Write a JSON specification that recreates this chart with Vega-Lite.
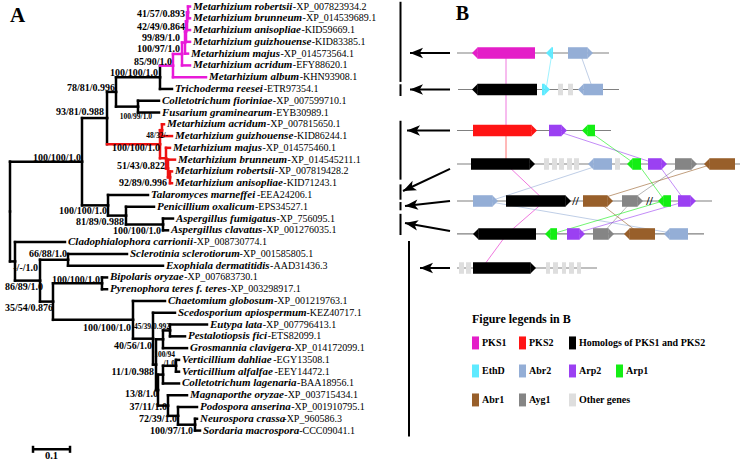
{
"$schema": "https://vega.github.io/schema/vega-lite/v6.json",
"padding": 0, "spacing": 0, "bounds": "flush", "background": "white",
"config": {"view": {"stroke": null}, "text": {"font": "Liberation Serif"}},
"resolve": {"scale": {"x": "independent", "y": "independent", "color": "independent", "shape": "independent"}},
"datasets": {
"tree": [
{"id":"t0","parent":"M5","depth":0.4865,"y":0,"grp":"PKS1","sp":"Metarhizium robertsii","acc":"XP_007823934.2"},
{"id":"t1","parent":"M5","depth":0.4865,"y":1,"grp":"PKS1","sp":"Metarhizium brunneum","acc":"XP_014539689.1"},
{"id":"t2","parent":"M4","depth":0.4865,"y":2,"grp":"PKS1","sp":"Metarhizium anisopliae","acc":"KID59669.1"},
{"id":"t3","parent":"M3","depth":0.4865,"y":3,"grp":"PKS1","sp":"Metarhizium guizhouense","acc":"KID83385.1"},
{"id":"t4","parent":"M2","depth":0.4811,"y":4,"grp":"PKS1","sp":"Metarhizium majus","acc":"XP_014573564.1"},
{"id":"t5","parent":"M1","depth":0.4865,"y":5,"grp":"PKS1","sp":"Metarhizium acridum","acc":"EFY88620.1"},
{"id":"t6","parent":"M0","depth":0.5297,"y":6,"grp":"PKS1","sp":"Metarhizium album","acc":"KHN93908.1"},
{"id":"t7","parent":"Y","depth":0.4378,"y":7,"grp":"other","sp":"Trichoderma reesei","acc":"ETR97354.1"},
{"id":"t8","parent":"Z","depth":0.4027,"y":8,"grp":"other","sp":"Colletotrichum fioriniae","acc":"XP_007599710.1"},
{"id":"t9","parent":"Z","depth":0.4027,"y":9,"grp":"other","sp":"Fusarium graminearum","acc":"EYB30989.1"},
{"id":"t10","parent":"Ra","depth":0.4162,"y":10,"grp":"PKS2","sp":"Metarhizium acridum","acc":"XP_007815650.1"},
{"id":"t11","parent":"Ra","depth":0.4378,"y":11,"grp":"PKS2","sp":"Metarhizium guizhouense","acc":"KID86244.1"},
{"id":"t12","parent":"R2","depth":0.4324,"y":12,"grp":"PKS2","sp":"Metarhizium majus","acc":"XP_014575460.1"},
{"id":"t13","parent":"R3","depth":0.4459,"y":13,"grp":"PKS2","sp":"Metarhizium brunneum","acc":"XP_014545211.1"},
{"id":"t14","parent":"R4","depth":0.4378,"y":14,"grp":"PKS2","sp":"Metarhizium robertsii","acc":"XP_007819428.2"},
{"id":"t15","parent":"R4","depth":0.4378,"y":15,"grp":"PKS2","sp":"Metarhizium anisopliae","acc":"KID71243.1"},
{"id":"t16","parent":"W","depth":0.3730,"y":16,"grp":"other","sp":"Talaromyces marneffei","acc":"EEA24206.1"},
{"id":"t17","parent":"W2","depth":0.3892,"y":17,"grp":"other","sp":"Penicillium oxalicum","acc":"EPS34527.1"},
{"id":"t18","parent":"W3","depth":0.4405,"y":18,"grp":"other","sp":"Aspergillus fumigatus","acc":"XP_756095.1"},
{"id":"t19","parent":"W3","depth":0.4270,"y":19,"grp":"other","sp":"Aspergillus clavatus","acc":"XP_001276035.1"},
{"id":"t20","parent":"B","depth":0.1486,"y":20,"grp":"other","sp":"Cladophialophora carrionii","acc":"XP_008730774.1"},
{"id":"t21","parent":"D","depth":0.3162,"y":21,"grp":"other","sp":"Sclerotinia sclerotiorum","acc":"XP_001585805.1"},
{"id":"t22","parent":"D","depth":0.4135,"y":22,"grp":"other","sp":"Exophiala dermatitidis","acc":"AAD31436.3"},
{"id":"t23","parent":"F","depth":0.2622,"y":23,"grp":"other","sp":"Bipolaris oryzae","acc":"XP_007683730.1"},
{"id":"t24","parent":"F","depth":0.2622,"y":24,"grp":"other","sp":"Pyrenophora teres f. teres","acc":"XP_003298917.1"},
{"id":"t25","parent":"G","depth":0.4189,"y":25,"grp":"other","sp":"Chaetomium globosum","acc":"XP_001219763.1"},
{"id":"t26","parent":"H","depth":0.4459,"y":26,"grp":"other","sp":"Scedosporium apiospermum","acc":"KEZ40717.1"},
{"id":"t27","parent":"J","depth":0.5324,"y":27,"grp":"other","sp":"Eutypa lata","acc":"XP_007796413.1"},
{"id":"t28","parent":"J","depth":0.4730,"y":28,"grp":"other","sp":"Pestalotiopsis fici","acc":"ETS82099.1"},
{"id":"t29","parent":"K","depth":0.4784,"y":29,"grp":"other","sp":"Grosmannia clavigera","acc":"XP_014172099.1"},
{"id":"t30","parent":"Vn","depth":0.4568,"y":30,"grp":"other","sp":"Verticillium dahliae","acc":"EGY13508.1"},
{"id":"t31","parent":"Vn","depth":0.4568,"y":31,"grp":"other","sp":"Verticillium alfalfae","acc":"EEY14472.1"},
{"id":"t32","parent":"L","depth":0.4568,"y":32,"grp":"other","sp":"Colletotrichum lagenaria","acc":"BAA18956.1"},
{"id":"t33","parent":"R","depth":0.4784,"y":33,"grp":"other","sp":"Magnaporthe oryzae","acc":"XP_003715434.1"},
{"id":"t34","parent":"S","depth":0.5054,"y":34,"grp":"other","sp":"Podospora anserina","acc":"XP_001910795.1"},
{"id":"t35","parent":"T","depth":0.5054,"y":35,"grp":"other","sp":"Neurospora crassa","acc":"XP_960586.3"},
{"id":"t36","parent":"T","depth":0.5135,"y":36,"grp":"other","sp":"Sordaria macrospora","acc":"CCC09041.1"},
{"id":"M5","parent":"M4","depth":0.4811,"y":0.5,"grp":"PKS1"},
{"id":"M4","parent":"M3","depth":0.4784,"y":1.25,"grp":"PKS1"},
{"id":"M3","parent":"M2","depth":0.4757,"y":2.13,"grp":"PKS1"},
{"id":"M2","parent":"M1","depth":0.4730,"y":3.06,"grp":"PKS1"},
{"id":"M1","parent":"M0","depth":0.4649,"y":4.03,"grp":"PKS1"},
{"id":"M0","parent":"Y","depth":0.4405,"y":5.02,"grp":"PKS1"},
{"id":"Y","parent":"X","depth":0.4054,"y":6.01,"grp":"other"},
{"id":"Z","parent":"X","depth":0.3459,"y":8.5,"grp":"other"},
{"id":"X","parent":"V","depth":0.2865,"y":7.25,"grp":"other"},
{"id":"Ra","parent":"R0","depth":0.4108,"y":10.5,"grp":"PKS2"},
{"id":"R4","parent":"R3","depth":0.4324,"y":14.5,"grp":"PKS2"},
{"id":"R3","parent":"R2","depth":0.4270,"y":13.75,"grp":"PKS2"},
{"id":"R2","parent":"R0","depth":0.4216,"y":12.88,"grp":"PKS2"},
{"id":"R0","parent":"V","depth":0.4054,"y":11.69,"grp":"PKS2"},
{"id":"V","parent":"U","depth":0.2622,"y":9.47,"grp":"other"},
{"id":"W3","parent":"W2","depth":0.4135,"y":18.5,"grp":"other"},
{"id":"W2","parent":"W","depth":0.3135,"y":17.75,"grp":"other"},
{"id":"W","parent":"U","depth":0.2649,"y":16.88,"grp":"other"},
{"id":"U","parent":"A","depth":0.1946,"y":13.17,"grp":"other"},
{"id":"D","parent":"C","depth":0.1568,"y":21.5,"grp":"other"},
{"id":"F","parent":"E","depth":0.2486,"y":23.5,"grp":"other"},
{"id":"T","parent":"S","depth":0.5,"y":35.5,"grp":"other"},
{"id":"S","parent":"R","depth":0.4541,"y":34.75,"grp":"other"},
{"id":"R","parent":"Q","depth":0.4270,"y":33.88,"grp":"other"},
{"id":"Vn","parent":"L","depth":0.4486,"y":30.5,"grp":"other"},
{"id":"L","parent":"Q","depth":0.4135,"y":31.25,"grp":"other"},
{"id":"Q","parent":"P","depth":0.4,"y":32.56,"grp":"other"},
{"id":"J","parent":"K","depth":0.4324,"y":27.5,"grp":"other"},
{"id":"K","parent":"P","depth":0.4135,"y":28.25,"grp":"other"},
{"id":"P","parent":"H","depth":0.3946,"y":30.4,"grp":"other"},
{"id":"H","parent":"G","depth":0.3865,"y":28.2,"grp":"other"},
{"id":"G","parent":"E","depth":0.3324,"y":26.6,"grp":"other"},
{"id":"E","parent":"C","depth":0.1162,"y":25.05,"grp":"other"},
{"id":"C","parent":"B","depth":0.0811,"y":23.27,"grp":"other"},
{"id":"B","parent":"A","depth":0.0135,"y":21.64,"grp":"other"},
{"id":"A","depth":0,"y":17.4,"grp":"other"}
],
"support": [
{"t":"41/57/0.893","x":0.4730,"y":0.637},
{"t":"42/49/0.864","x":0.4730,"y":1.740},
{"t":"99/89/1.0","x":0.4595,"y":2.674},
{"t":"100/97/1.0","x":0.4595,"y":3.608},
{"t":"85/90/1.0","x":0.4378,"y":4.711},
{"t":"100/100/1.0","x":0.4,"y":5.645},
{"t":"78/81/0.996","x":0.2838,"y":6.918},
{"t":"93/81/0.988","x":0.2541,"y":8.956},
{"t":"100/100/1.0","x":0.4054,"y":12.012},
{"t":"100/100/1.0","x":0.1919,"y":12.861},
{"t":"51/43/0.822","x":0.4189,"y":13.540},
{"t":"92/89/0.996","x":0.4243,"y":14.983},
{"t":"100/100/1.0","x":0.2622,"y":17.360},
{"t":"81/89/0.988","x":0.3081,"y":18.294},
{"t":"100/100/1.0","x":0.4081,"y":19.058},
{"t":"-/-/1.0","x":0.0757,"y":22.199},
{"t":"66/88/1.0","x":0.1541,"y":21.010},
{"t":"86/89/1.0","x":0.0892,"y":23.812},
{"t":"100/100/1.0","x":0.2432,"y":23.218},
{"t":"35/54/0.876","x":0.1162,"y":25.594},
{"t":"100/100/1.0","x":0.3270,"y":27.292},
{"t":"40/56/1.0","x":0.3838,"y":28.820},
{"t":"11/1/0.988","x":0.3892,"y":31.027},
{"t":"13/8/1.0","x":0.4,"y":32.895},
{"t":"37/11/1.0","x":0.4243,"y":33.999},
{"t":"72/39/1.0","x":0.4514,"y":35.017},
{"t":"100/97/1.0","x":0.4946,"y":36.036}
],
"supportSmall": [
{"t":"100/99/1.0","x":0.3838,"y":9.380},
{"t":"48/32/-","x":0.4270,"y":10.993},
{"t":"45/39/0.992","x":0.4324,"y":27.207},
{"t":"100/94","x":0.4459,"y":29.584},
{"t":"/1.0","x":0.4459,"y":30.348}
],
"scalebar": [{"from":0.0622,"to":0.1622,"y":37.59,"label":"0.1"}],
"panelA": [{"label":"A","x":0.0203,"y":0.806}],
"clusters": [
{"row":1,"y":3.947,"from":0,"to":15.2},
{"row":2,"y":7.046,"from":0.1,"to":16.2},
{"row":3,"y":10.526,"from":0,"to":15.4},
{"row":4,"y":13.37,"from":0,"to":28.3},
{"row":5,"y":16.51,"from":0,"to":25.5},
{"row":6,"y":19.31,"from":0,"to":24.7},
{"row":7,"y":22.2,"from":0,"to":14.0}
],
"genes": [
{"row":1,"start":1.5,"end":7.8,"strand":"-","type":"PKS1"},
{"row":1,"start":8.9,"end":9.6,"strand":"-","type":"EthD"},
{"row":1,"start":11.1,"end":13.6,"strand":"+","type":"Abr2"},
{"row":2,"start":1.5,"end":8.0,"strand":"-","type":"Homolog"},
{"row":2,"start":8.5,"end":9.3,"strand":"+","type":"EthD"},
{"row":2,"start":10.1,"end":10.6,"strand":"o","type":"Other"},
{"row":2,"start":11.1,"end":11.6,"strand":"o","type":"Other"},
{"row":2,"start":12.1,"end":14.6,"strand":"-","type":"Abr2"},
{"row":3,"start":1.6,"end":8.0,"strand":"+","type":"PKS2"},
{"row":3,"start":9.2,"end":11.0,"strand":"+","type":"Arp2"},
{"row":3,"start":12.5,"end":13.8,"strand":"-","type":"Arp1"},
{"row":4,"start":1.4,"end":7.8,"strand":"+","type":"Homolog"},
{"row":4,"start":8.7,"end":9.2,"strand":"o","type":"Other"},
{"row":4,"start":9.5,"end":10.0,"strand":"o","type":"Other"},
{"row":4,"start":10.2,"end":10.7,"strand":"o","type":"Other"},
{"row":4,"start":11.0,"end":11.5,"strand":"o","type":"Other"},
{"row":4,"start":11.7,"end":12.2,"strand":"o","type":"Other"},
{"row":4,"start":13.1,"end":15.5,"strand":"-","type":"Abr2"},
{"row":4,"start":15.8,"end":16.3,"strand":"o","type":"Other"},
{"row":4,"start":17.0,"end":18.4,"strand":"-","type":"Arp1"},
{"row":4,"start":19.1,"end":21.0,"strand":"+","type":"Arp2"},
{"row":4,"start":21.8,"end":24.0,"strand":"+","type":"Ayg1"},
{"row":4,"start":24.7,"end":27.8,"strand":"-","type":"Abr1"},
{"row":5,"start":1.6,"end":4.1,"strand":"+","type":"Abr2"},
{"row":5,"start":4.9,"end":11.4,"strand":"+","type":"Homolog"},
{"row":5,"start":12.6,"end":15.6,"strand":"+","type":"Abr1"},
{"row":5,"start":16.5,"end":18.6,"strand":"+","type":"Ayg1"},
{"row":5,"start":20.1,"end":21.4,"strand":"-","type":"Arp1"},
{"row":5,"start":22.1,"end":23.9,"strand":"+","type":"Arp2"},
{"row":6,"start":1.6,"end":7.9,"strand":"-","type":"Homolog"},
{"row":6,"start":8.8,"end":10.0,"strand":"-","type":"Arp1"},
{"row":6,"start":11.0,"end":12.8,"strand":"+","type":"Arp2"},
{"row":6,"start":13.6,"end":15.7,"strand":"+","type":"Ayg1"},
{"row":6,"start":16.7,"end":19.8,"strand":"-","type":"Abr1"},
{"row":6,"start":20.7,"end":23.1,"strand":"-","type":"Abr2"},
{"row":7,"start":0.2,"end":0.7,"strand":"o","type":"Other"},
{"row":7,"start":0.9,"end":1.4,"strand":"o","type":"Other"},
{"row":7,"start":1.6,"end":7.9,"strand":"+","type":"Homolog"},
{"row":7,"start":8.9,"end":9.3,"strand":"o","type":"Other"},
{"row":7,"start":9.6,"end":10.1,"strand":"o","type":"Other"},
{"row":7,"start":10.5,"end":10.9,"strand":"o","type":"Other"},
{"row":7,"start":11.2,"end":11.7,"strand":"o","type":"Other"},
{"row":7,"start":12.0,"end":12.4,"strand":"o","type":"Other"}
],
"links": [
{"type":"PKS1","r1":1,"x1":4.9,"r2":3,"x2":4.9},
{"type":"EthD","r1":1,"x1":9.5,"r2":2,"x2":8.9},
{"type":"Abr2","r1":1,"x1":12.3,"r2":2,"x2":13.6},
{"type":"PKS2","r1":3,"x1":4.9,"r2":4,"x2":4.9},
{"type":"Arp2","r1":3,"x1":9.8,"r2":4,"x2":20.0},
{"type":"Arp1","r1":3,"x1":13.1,"r2":4,"x2":17.8},
{"type":"PKS1","r1":4,"x1":4.9,"r2":5,"x2":8.8},
{"type":"Abr2","r1":4,"x1":14.6,"r2":5,"x2":3.3},
{"type":"Ayg1","r1":4,"x1":22.6,"r2":5,"x2":17.3},
{"type":"Abr1","r1":4,"x1":25.6,"r2":5,"x2":13.6},
{"type":"Arp1","r1":4,"x1":18.1,"r2":5,"x2":20.8},
{"type":"Arp2","r1":4,"x1":20.1,"r2":5,"x2":22.8},
{"type":"PKS1","r1":5,"x1":8.8,"r2":6,"x2":5.0},
{"type":"Abr2","r1":5,"x1":2.8,"r2":6,"x2":22.0},
{"type":"Abr1","r1":5,"x1":14.0,"r2":6,"x2":18.3},
{"type":"Ayg1","r1":5,"x1":17.5,"r2":6,"x2":14.5},
{"type":"Arp1","r1":5,"x1":20.6,"r2":6,"x2":9.5},
{"type":"Arp2","r1":5,"x1":23.0,"r2":6,"x2":11.6},
{"type":"PKS1","r1":6,"x1":5.0,"r2":7,"x2":2.5}
],
"breaks": [{"row":5,"pos":11.85},{"row":5,"pos":19.25}],
"bars": [
{"x":-5.65,"y1":-0.4,"y2":6.4},
{"x":-5.65,"y1":6.6,"y2":7.6},
{"x":-5.65,"y1":9.7,"y2":14.7},
{"x":-5.65,"y1":15.1,"y2":16.4},
{"x":-5.65,"y1":16.6,"y2":17.3},
{"x":-5.65,"y1":17.6,"y2":19.4},
{"x":-4.8,"y1":19.9,"y2":36.5}
],
"arrows": [
{"tx":-0.7,"ty":3.947,"hx":-4.7,"hy":3.947},
{"tx":-0.7,"ty":7.046,"hx":-4.7,"hy":7.046},
{"tx":-0.7,"ty":10.526,"hx":-5.0,"hy":10.526},
{"tx":-0.7,"ty":13.79,"hx":-5.4,"hy":15.66},
{"tx":-0.7,"ty":16.51,"hx":-5.2,"hy":16.94},
{"tx":-0.7,"ty":19.06,"hx":-5.2,"hy":18.38},
{"tx":-0.7,"ty":22.2,"hx":-3.7,"hy":22.2}
],
"legend": [
{"type":"PKS1","label":"PKS1","lx":1.5,"ly":28.56},
{"type":"PKS2","label":"PKS2","lx":6.2,"ly":28.56},
{"type":"Homolog","label":"Homologs of PKS1 and PKS2","lx":11.2,"ly":28.56},
{"type":"EthD","label":"EthD","lx":1.5,"ly":30.94},
{"type":"Abr2","label":"Abr2","lx":6.2,"ly":30.94},
{"type":"Arp2","label":"Arp2","lx":11.2,"ly":30.94},
{"type":"Arp1","label":"Arp1","lx":15.9,"ly":30.94},
{"type":"Abr1","label":"Abr1","lx":1.5,"ly":33.4},
{"type":"Ayg1","label":"Ayg1","lx":6.2,"ly":33.4},
{"type":"Other","label":"Other genes","lx":11.2,"ly":33.4}
],
"panelB": [{"label":"B","x":0.55,"y":0.679},{"label":"Figure legends in B","x":1.5,"y":26.53}]
},
"hconcat": [
{
"width": 395, "height": 461,
"layer": [
{"data": {"name": "tree"},
 "transform": [
  {"lookup": "parent", "from": {"data": {"name": "tree"}, "key": "id", "fields": ["depth","y","grp"]}, "as": ["pdepth","py","pgrp"]},
  {"filter": "isValid(datum.pdepth)"}],
 "mark": {"type": "rule", "strokeWidth": 2.5, "strokeCap": "square"},
 "encoding": {
  "x": {"field": "pdepth", "type": "quantitative", "scale": {"domain": [-0.027027, 1.040541], "nice": false, "zero": false}, "axis": null},
  "y": {"field": "py", "type": "quantitative", "scale": {"domain": [-0.4669, 38.6672], "reverse": true, "nice": false, "zero": false}, "axis": null},
  "y2": {"field": "y"},
  "color": {"field": "pgrp", "type": "nominal", "scale": {"domain": ["other","PKS1","PKS2"], "range": ["#000000","#e81ad8","#ee1111"]}, "legend": null}
 }},
{"data": {"name": "tree"},
 "transform": [
  {"lookup": "parent", "from": {"data": {"name": "tree"}, "key": "id", "fields": ["depth"]}, "as": ["pdepth"]},
  {"filter": "isValid(datum.pdepth)"}],
 "mark": {"type": "rule", "strokeWidth": 2.5, "strokeCap": "square"},
 "encoding": {
  "x": {"field": "pdepth", "type": "quantitative"},
  "x2": {"field": "depth"},
  "y": {"field": "y", "type": "quantitative"},
  "color": {"field": "grp", "type": "nominal"}
 }},
{"data": {"name": "tree"},
 "transform": [{"filter": "isValid(datum.sp)"}],
 "mark": {"type": "text", "align": "left", "baseline": "middle", "dx": 3, "font": "Liberation Serif", "fontSize": 11, "fontWeight": "bold", "fontStyle": "italic", "color": "black"},
 "encoding": {
  "x": {"field": "depth", "type": "quantitative"},
  "y": {"field": "y", "type": "quantitative"},
  "text": {"field": "sp"}
 }},
{"data": {"name": "tree"},
 "transform": [{"filter": "isValid(datum.sp)"},
  {"calculate": "0.5*length(datum.sp) - 0.222*length(replace(datum.sp, regexp('[^iltj]','g'), '')) - 0.111*length(replace(datum.sp, regexp('[^rsz]','g'), '')) - 0.167*length(replace(datum.sp, regexp('[^f]','g'), '')) - 0.056*length(replace(datum.sp, regexp('[^ecvy]','g'), '')) + 0.056*length(replace(datum.sp, regexp('[^hnu]','g'), '')) + 0.278*length(replace(datum.sp, regexp('[^mw]','g'), '')) + 0.389*length(replace(datum.sp, regexp('[^M]','g'), '')) + 0.167*length(replace(datum.sp, regexp('[^ABCEFGV]','g'), '')) + 0.111*length(replace(datum.sp, regexp('[^PT]','g'), '')) - 0.25*length(replace(datum.sp, regexp('[^ .]','g'), ''))", "as": "wem"},
  {"calculate": "datum.depth + (11*datum.wem + 0.5)/370", "as": "accx"},
  {"calculate": "'-' + datum.acc", "as": "acctext"}],
 "mark": {"type": "text", "align": "left", "baseline": "middle", "dx": 3, "font": "Liberation Serif", "fontSize": 10, "color": "black"},
 "encoding": {
  "x": {"field": "accx", "type": "quantitative"},
  "y": {"field": "y", "type": "quantitative"},
  "text": {"field": "acctext"}
 }},
{"data": {"name": "support"},
 "mark": {"type": "text", "align": "right", "baseline": "middle", "font": "Liberation Serif", "fontSize": 10, "fontWeight": "bold", "color": "black"},
 "encoding": {
  "x": {"field": "x", "type": "quantitative"},
  "y": {"field": "y", "type": "quantitative"},
  "text": {"field": "t"}
 }},
{"data": {"name": "supportSmall"},
 "mark": {"type": "text", "align": "right", "baseline": "middle", "font": "Liberation Serif", "fontSize": 7.5, "fontWeight": "bold", "color": "black"},
 "encoding": {
  "x": {"field": "x", "type": "quantitative"},
  "y": {"field": "y", "type": "quantitative"},
  "text": {"field": "t"}
 }},
{"data": {"name": "scalebar"},
 "mark": {"type": "rule", "strokeWidth": 2.5, "color": "black"},
 "encoding": {
  "x": {"field": "from", "type": "quantitative"},
  "x2": {"field": "to"},
  "y": {"field": "y", "type": "quantitative"}
 }},
{"data": {"name": "scalebar"},
 "transform": [{"fold": ["from","to"], "as": ["end","ex"]}, {"calculate": "datum.y - 0.3", "as": "ya"}, {"calculate": "datum.y + 0.3", "as": "yb"}],
 "mark": {"type": "rule", "strokeWidth": 2.5, "color": "black"},
 "encoding": {
  "x": {"field": "ex", "type": "quantitative"},
  "y": {"field": "ya", "type": "quantitative"},
  "y2": {"field": "yb"}
 }},
{"data": {"name": "scalebar"},
 "transform": [{"calculate": "(datum.from + datum.to)/2", "as": "mid"}, {"calculate": "datum.y + 0.55", "as": "ty"}],
 "mark": {"type": "text", "align": "center", "baseline": "middle", "font": "Liberation Serif", "fontSize": 10.5, "fontWeight": "bold", "color": "black"},
 "encoding": {
  "x": {"field": "mid", "type": "quantitative"},
  "y": {"field": "ty", "type": "quantitative"},
  "text": {"field": "label"}
 }},
{"data": {"name": "panelA"},
 "mark": {"type": "text", "align": "center", "baseline": "middle", "font": "Liberation Serif", "fontSize": 21, "fontWeight": "bold", "color": "black"},
 "encoding": {
  "x": {"field": "x", "type": "quantitative"},
  "y": {"field": "y", "type": "quantitative"},
  "text": {"field": "label"}
 }}
]
},
{
"width": 346, "height": 461,
"layer": [
{"data": {"name": "clusters"},
 "mark": {"type": "rule", "strokeWidth": 1.2, "color": "#808080"},
 "encoding": {
  "x": {"field": "from", "type": "quantitative", "scale": {"domain": [-6.2, 28.4], "nice": false, "zero": false}, "axis": null},
  "x2": {"field": "to"},
  "y": {"field": "y", "type": "quantitative", "scale": {"domain": [-0.4669, 38.6672], "reverse": true, "nice": false, "zero": false}, "axis": null}
 }},
{"data": {"name": "links"},
 "transform": [
  {"lookup": "r1", "from": {"data": {"name": "clusters"}, "key": "row", "fields": ["y"]}, "as": ["ya"]},
  {"lookup": "r2", "from": {"data": {"name": "clusters"}, "key": "row", "fields": ["y"]}, "as": ["yb"]}],
 "mark": {"type": "rule", "strokeWidth": 1, "opacity": 0.6},
 "encoding": {
  "x": {"field": "x1", "type": "quantitative"},
  "x2": {"field": "x2"},
  "y": {"field": "ya", "type": "quantitative"},
  "y2": {"field": "yb"},
  "color": {"field": "type", "type": "nominal", "scale": {"domain": ["PKS1","PKS2","Homolog","EthD","Abr2","Arp2","Arp1","Abr1","Ayg1","Other"], "range": ["#e41ec8","#ff1414","#000000","#5eeaff","#94aed6","#9b40f2","#14ee14","#985f2a","#858585","#dedede"]}, "legend": null}
 }},
{"data": {"name": "genes"},
 "transform": [
  {"lookup": "row", "from": {"data": {"name": "clusters"}, "key": "row", "fields": ["y"]}, "as": ["gy"]},
  {"calculate": "datum.strand == '-' ? datum.start + 0.55 : datum.start", "as": "bx1"},
  {"calculate": "datum.strand == '+' ? datum.end - 0.55 : datum.end", "as": "bx2"},
  {"calculate": "datum.gy - 0.49", "as": "yt"},
  {"calculate": "datum.gy + 0.49", "as": "yb"}],
 "mark": {"type": "rect"},
 "encoding": {
  "x": {"field": "bx1", "type": "quantitative"},
  "x2": {"field": "bx2"},
  "y": {"field": "yt", "type": "quantitative"},
  "y2": {"field": "yb"},
  "color": {"field": "type", "type": "nominal"}
 }},
{"data": {"name": "genes"},
 "transform": [
  {"filter": "datum.strand != 'o'"},
  {"lookup": "row", "from": {"data": {"name": "clusters"}, "key": "row", "fields": ["y"]}, "as": ["gy"]},
  {"calculate": "datum.strand == '+' ? datum.end : datum.start", "as": "hx"}],
 "mark": {"type": "point", "filled": true, "opacity": 1, "size": 132, "strokeWidth": 0},
 "encoding": {
  "x": {"field": "hx", "type": "quantitative"},
  "y": {"field": "gy", "type": "quantitative"},
  "shape": {"field": "strand", "type": "nominal", "scale": {"domain": ["+","-"], "range": ["M0,0L-1,-1L-1,1Z","M0,0L1,-1L1,1Z"]}, "legend": null},
  "color": {"field": "type", "type": "nominal"}
 }},
{"data": {"name": "breaks"},
 "transform": [{"lookup": "row", "from": {"data": {"name": "clusters"}, "key": "row", "fields": ["y"]}, "as": ["gy"]}],
 "mark": {"type": "text", "text": "//", "align": "center", "baseline": "middle", "font": "Liberation Serif", "fontSize": 12, "fontWeight": "bold", "color": "black"},
 "encoding": {
  "x": {"field": "pos", "type": "quantitative"},
  "y": {"field": "gy", "type": "quantitative"}
 }},
{"data": {"name": "bars"},
 "mark": {"type": "rule", "strokeWidth": 2, "color": "black"},
 "encoding": {
  "x": {"field": "x", "type": "quantitative"},
  "y": {"field": "y1", "type": "quantitative"},
  "y2": {"field": "y2"}
 }},
{"data": {"name": "arrows"},
 "mark": {"type": "rule", "strokeWidth": 2, "color": "black"},
 "encoding": {
  "x": {"field": "tx", "type": "quantitative"},
  "x2": {"field": "hx"},
  "y": {"field": "ty", "type": "quantitative"},
  "y2": {"field": "hy"}
 }},
{"data": {"name": "arrows"},
 "transform": [{"calculate": "atan2(-(datum.hy - datum.ty)*11.78, -(datum.hx - datum.tx)*10)*180/PI", "as": "ang"}],
 "mark": {"type": "point", "shape": "M0,0L2,-0.8L1.5,0L2,0.8Z", "filled": true, "opacity": 1, "size": 169, "color": "black", "strokeWidth": 0},
 "encoding": {
  "x": {"field": "hx", "type": "quantitative"},
  "y": {"field": "hy", "type": "quantitative"},
  "angle": {"field": "ang", "type": "quantitative", "scale": null}
 }},
{"data": {"name": "legend"},
 "transform": [{"calculate": "datum.lx + 0.7", "as": "lx2"}, {"calculate": "datum.ly - 0.55", "as": "ly1"}, {"calculate": "datum.ly + 0.55", "as": "ly2"}],
 "mark": {"type": "rect"},
 "encoding": {
  "x": {"field": "lx", "type": "quantitative"},
  "x2": {"field": "lx2"},
  "y": {"field": "ly1", "type": "quantitative"},
  "y2": {"field": "ly2"},
  "color": {"field": "type", "type": "nominal"}
 }},
{"data": {"name": "legend"},
 "transform": [{"calculate": "datum.lx + 1.0", "as": "tx"}],
 "mark": {"type": "text", "align": "left", "baseline": "middle", "font": "Liberation Serif", "fontSize": 10, "fontWeight": "bold", "color": "black"},
 "encoding": {
  "x": {"field": "tx", "type": "quantitative"},
  "y": {"field": "ly", "type": "quantitative"},
  "text": {"field": "label"}
 }},
{"data": {"name": "panelB"},
 "transform": [{"filter": "datum.label == 'B'"}],
 "mark": {"type": "text", "align": "center", "baseline": "middle", "font": "Liberation Serif", "fontSize": 20, "fontWeight": "bold", "color": "black"},
 "encoding": {
  "x": {"field": "x", "type": "quantitative"},
  "y": {"field": "y", "type": "quantitative"},
  "text": {"field": "label"}
 }},
{"data": {"name": "panelB"},
 "transform": [{"filter": "datum.label != 'B'"}],
 "mark": {"type": "text", "align": "left", "baseline": "middle", "font": "Liberation Serif", "fontSize": 12, "fontWeight": "bold", "color": "black"},
 "encoding": {
  "x": {"field": "x", "type": "quantitative"},
  "y": {"field": "y", "type": "quantitative"},
  "text": {"field": "label"}
 }}
]
}
]
}
